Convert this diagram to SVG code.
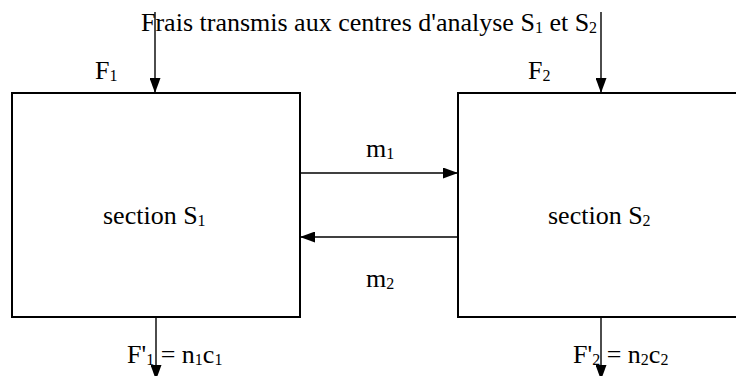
<svg xmlns="http://www.w3.org/2000/svg" width="736" height="376" viewBox="0 0 736 376">
<style>
text{font-family:"Liberation Serif","Times New Roman",serif;font-size:26px;fill:#000}
.sub{font-size:16px}
.box{fill:#fff;stroke:#000;stroke-width:2}
.ln{stroke:#000;stroke-width:1.4;fill:none}
</style>
<defs>
<marker id="ah" viewBox="0 0 15 11" refX="15" refY="5.5" markerWidth="15" markerHeight="11" markerUnits="userSpaceOnUse" orient="auto">
<path d="M0,0L15,5.5L0,11z" fill="#000"/>
</marker>
</defs>
<rect width="736" height="376" fill="#fff"/>
<text x="141" y="31">Frais transmis aux centres d'analyse S<tspan class="sub" dy="2">1</tspan><tspan dy="-2"> et S</tspan><tspan class="sub" dy="2">2</tspan></text>
<g id="section1">
<rect class="box" x="12" y="93" width="288" height="224"/>
<text x="103" y="224">section S<tspan class="sub" dy="2">1</tspan></text>
</g>
<g id="section2">
<rect class="box" x="458" y="93" width="300" height="224"/>
<text x="548" y="224">section S<tspan class="sub" dy="2">2</tspan></text>
</g>
<g id="connectors">
<path class="ln" d="M155,12V93" marker-end="url(#ah)"/>
<path class="ln" d="M601,12V93" marker-end="url(#ah)"/>
<path class="ln" d="M300,173H458" marker-end="url(#ah)"/>
<path class="ln" d="M458,237H300" marker-end="url(#ah)"/>
<path class="ln" d="M156,317V380" marker-end="url(#ah)"/>
<path class="ln" d="M601,317V380" marker-end="url(#ah)"/>
</g>
<g id="labels">
<text x="95" y="79">F<tspan class="sub" dy="2">1</tspan></text>
<text x="528" y="79">F<tspan class="sub" dy="2">2</tspan></text>
<text x="366" y="157">m<tspan class="sub" dy="2">1</tspan></text>
<text x="366" y="287">m<tspan class="sub" dy="2">2</tspan></text>
<text x="127" y="363">F'<tspan class="sub" dy="2">1</tspan><tspan dy="-2"> = n</tspan><tspan class="sub" dy="2">1</tspan><tspan dy="-2">c</tspan><tspan class="sub" dy="2">1</tspan></text>
<text x="573" y="363">F'<tspan class="sub" dy="2">2</tspan><tspan dy="-2"> = n</tspan><tspan class="sub" dy="2">2</tspan><tspan dy="-2">c</tspan><tspan class="sub" dy="2">2</tspan></text>
</g>
</svg>
